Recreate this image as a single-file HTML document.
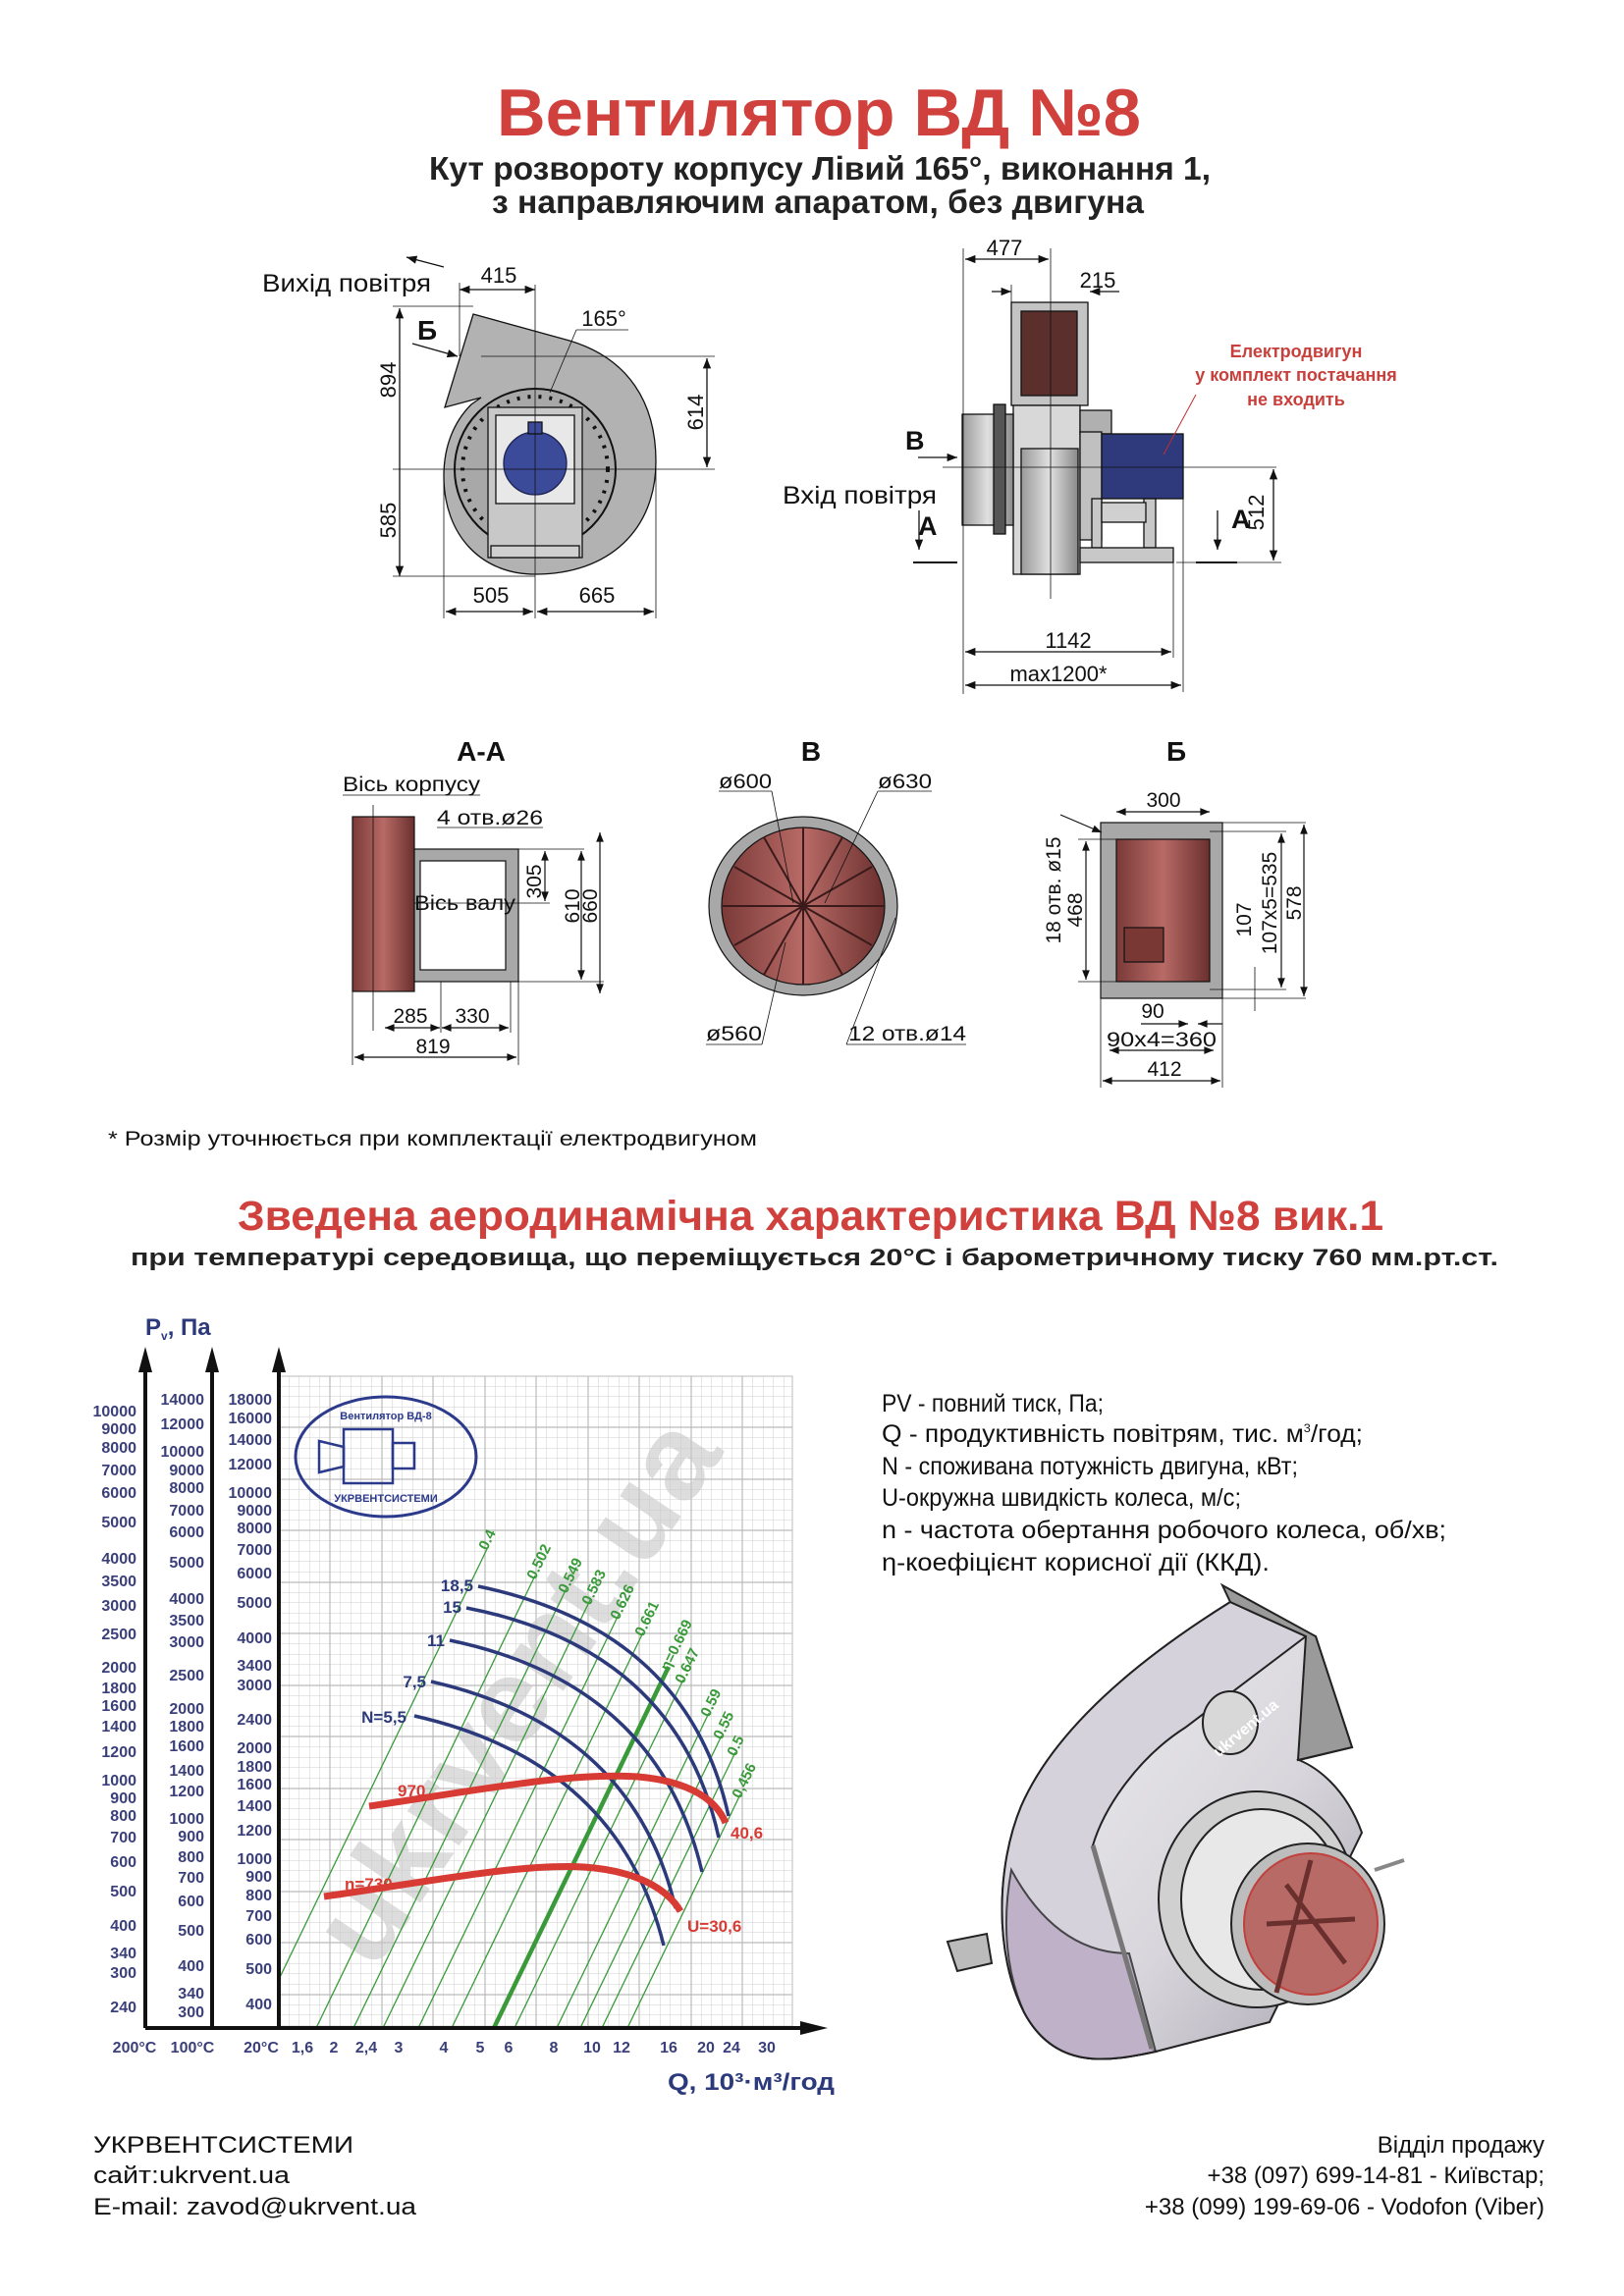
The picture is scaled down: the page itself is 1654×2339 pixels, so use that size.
<!DOCTYPE html>
<html><head><meta charset="utf-8"><style>
html,body{margin:0;padding:0;background:#fff}
svg{display:block}
text{font-family:"Liberation Sans",sans-serif}
</style></head><body>
<svg width="1654" height="2339" viewBox="0 0 1654 2339" xmlns="http://www.w3.org/2000/svg">
<defs>
<pattern id="g" x="284" y="1402" width="10.5" height="10.5" patternUnits="userSpaceOnUse">
<path d="M10.5 0V10.5H0" fill="none" stroke="#cfcfcf" stroke-width="1"/>
</pattern>
<clipPath id="cg"><rect x="284" y="1402" width="523" height="664"/></clipPath>
<marker id="ar" viewBox="0 0 10 10" refX="10" refY="5" markerWidth="12" markerHeight="8" orient="auto-start-reverse"><path d="M0 1L10 5L0 9Z" fill="#111"/></marker>
<linearGradient id="red" x1="0" x2="1"><stop offset="0" stop-color="#7a3a38"/><stop offset=".5" stop-color="#b86a66"/><stop offset="1" stop-color="#6a302e"/></linearGradient>
<linearGradient id="gy" x1="0" x2="1"><stop offset="0" stop-color="#9a9a9a"/><stop offset=".5" stop-color="#e0e0e0"/><stop offset="1" stop-color="#8a8a8a"/></linearGradient>
<linearGradient id="hs" x1="0" x2="1" y1="0" y2="1"><stop offset="0" stop-color="#f0f0f0"/><stop offset=".6" stop-color="#d8d6dc"/><stop offset="1" stop-color="#a8a4b0"/></linearGradient>
</defs>

<!-- Titles -->
<text x="506" y="138" font-size="68" font-weight="bold" fill="#d0403c" textLength="656" lengthAdjust="spacingAndGlyphs">Вентилятор  ВД №8</text>
<text x="437" y="183" font-size="33" font-weight="bold" fill="#222" textLength="796" lengthAdjust="spacingAndGlyphs">Кут розвороту корпусу Лівий 165°, виконання 1,</text>
<text x="501" y="217" font-size="33" font-weight="bold" fill="#222" textLength="664" lengthAdjust="spacingAndGlyphs">з направляючим апаратом, без двигуна</text>

<!-- Left front view -->
<g stroke="#111" stroke-width="1.3" fill="none">
<path d="M482 320 L580 347 C640 365 668 410 668 470 C668 540 620 585 545 585 C490 585 452 545 452 485 C452 455 462 430 480 412 L490 405 L453 415 Z" fill="#b2b2b2"/>
<circle cx="545" cy="478" r="82" fill="#a8a8a8" stroke-width="2"/>
<circle cx="545" cy="478" r="74" stroke-dasharray="3 8" stroke-width="4"/>
<rect x="497" y="415" width="96" height="153" fill="#c8c8c8"/>
<rect x="505" y="423" width="80" height="90" fill="#e8e8e8"/>
<rect x="500" y="556" width="90" height="12" fill="#d0d0d0"/>
<circle cx="545" cy="472" r="32" fill="#3c4a9a" stroke="#1c2250"/>
<rect x="538" y="430" width="14" height="12" fill="#3c4a9a"/>
<line x1="545" y1="290" x2="545" y2="605" stroke-width="0.8"/>
<line x1="400" y1="478" x2="728" y2="478" stroke-width="0.8"/>
<line x1="407" y1="314" x2="407" y2="587" marker-start="url(#ar)" marker-end="url(#ar)"/>
<line x1="400" y1="312" x2="482" y2="312" stroke-width="0.8"/>
<line x1="400" y1="587" x2="545" y2="587" stroke-width="0.8"/>
<line x1="720" y1="365" x2="720" y2="476" marker-start="url(#ar)" marker-end="url(#ar)"/>
<line x1="490" y1="363" x2="728" y2="363" stroke-width="0.8"/>
<line x1="468" y1="295" x2="545" y2="295" marker-start="url(#ar)" marker-end="url(#ar)"/>
<line x1="468" y1="288" x2="468" y2="363" stroke-width="0.8"/>
<line x1="454" y1="623" x2="543" y2="623" marker-start="url(#ar)" marker-end="url(#ar)"/>
<line x1="547" y1="623" x2="666" y2="623" marker-start="url(#ar)" marker-end="url(#ar)"/>
<line x1="452" y1="485" x2="452" y2="630" stroke-width="0.8"/>
<line x1="668" y1="470" x2="668" y2="630" stroke-width="0.8"/>
<line x1="545" y1="605" x2="545" y2="630" stroke-width="0.8"/>
<line x1="420" y1="350" x2="466" y2="363" marker-end="url(#ar)"/>
<line x1="560" y1="400" x2="587" y2="336" stroke-width="0.8"/>
<line x1="587" y1="336" x2="640" y2="336" stroke-width="0.8"/>
<line x1="414" y1="262" x2="452" y2="272" marker-start="url(#ar)"/>
</g>
<g font-size="22" fill="#111">
<text x="267" y="297" font-size="25" textLength="172" lengthAdjust="spacingAndGlyphs">Вихід повітря</text>
<text x="508" y="288" text-anchor="middle">415</text>
<text x="425" y="346" font-size="28" font-weight="bold">Б</text>
<text x="615" y="332" text-anchor="middle">165°</text>
<text transform="translate(403,387) rotate(-90)" text-anchor="middle">894</text>
<text transform="translate(403,530) rotate(-90)" text-anchor="middle">585</text>
<text transform="translate(716,420) rotate(-90)" text-anchor="middle">614</text>
<text x="500" y="614" text-anchor="middle">505</text>
<text x="608" y="614" text-anchor="middle">665</text>
</g>

<!-- Right side view -->
<g stroke="#111" stroke-width="1.3" fill="none">
<rect x="1030" y="308" width="78" height="105" fill="#c4c4c4"/>
<rect x="1040" y="317" width="57" height="86" fill="#5a2f2c"/>
<rect x="1032" y="413" width="68" height="172" fill="#d8d8d8"/>
<rect x="1040" y="457" width="58" height="128" fill="url(#gy)"/>
<rect x="980" y="422" width="52" height="113" fill="url(#gy)"/>
<rect x="1012" y="412" width="12" height="132" fill="#555"/>
<rect x="1100" y="418" width="32" height="24" fill="#b0b0b0"/>
<rect x="1100" y="440" width="22" height="110" fill="#c0c0c0"/>
<rect x="1122" y="442" width="83" height="66" fill="#2e3a7c"/>
<rect x="1112" y="508" width="10" height="50" fill="#c8c8c8"/>
<rect x="1165" y="508" width="12" height="50" fill="#c8c8c8"/>
<rect x="1122" y="512" width="45" height="20" fill="#d0d0d0"/>
<rect x="1100" y="558" width="95" height="15" fill="#c8c8c8"/>
<line x1="1070" y1="300" x2="1070" y2="610" stroke-width="0.8"/>
<line x1="960" y1="476" x2="1300" y2="476" stroke-width="0.8"/>
<line x1="981" y1="253" x2="981" y2="707" stroke-width="0.8"/>
<line x1="983" y1="264" x2="1068" y2="264" marker-start="url(#ar)" marker-end="url(#ar)"/>
<line x1="1070" y1="253" x2="1070" y2="300" stroke-width="0.8"/>
<line x1="1010" y1="297" x2="1030" y2="297" marker-end="url(#ar)"/>
<line x1="1140" y1="297" x2="1110" y2="297" marker-end="url(#ar)"/>
<line x1="1030" y1="290" x2="1030" y2="308" stroke-width="0.8"/>
<line x1="1297" y1="478" x2="1297" y2="571" marker-start="url(#ar)" marker-end="url(#ar)"/>
<line x1="1198" y1="573" x2="1305" y2="573" stroke-width="0.8"/>
<line x1="1195" y1="560" x2="1195" y2="670" stroke-width="0.8"/>
<line x1="1205" y1="508" x2="1205" y2="705" stroke-width="0.8"/>
<line x1="983" y1="664" x2="1193" y2="664" marker-start="url(#ar)" marker-end="url(#ar)"/>
<line x1="983" y1="698" x2="1203" y2="698" marker-start="url(#ar)" marker-end="url(#ar)"/>
<line x1="1218" y1="402" x2="1185" y2="463" stroke="#c03030" stroke-width="1"/>
<line x1="935" y1="466" x2="975" y2="466" marker-end="url(#ar)"/>
<line x1="936" y1="520" x2="936" y2="560" marker-end="url(#ar)"/>
<line x1="930" y1="573" x2="975" y2="573" stroke-width="2"/>
<line x1="1240" y1="520" x2="1240" y2="560" marker-end="url(#ar)"/>
<line x1="1218" y1="573" x2="1260" y2="573" stroke-width="2"/>
</g>
<g font-size="22" fill="#111">
<text x="1023" y="260" text-anchor="middle">477</text>
<text x="1118" y="293" text-anchor="middle">215</text>
<text x="922" y="458" font-size="27" font-weight="bold">В</text>
<text x="797" y="513" font-size="25" textLength="157" lengthAdjust="spacingAndGlyphs">Вхід повітря</text>
<text x="935" y="545" font-size="27" font-weight="bold">А</text>
<text x="1254" y="538" font-size="27" font-weight="bold">А</text>
<text transform="translate(1287,522) rotate(-90)" text-anchor="middle">512</text>
<text x="1088" y="660" text-anchor="middle">1142</text>
<text x="1078" y="694" text-anchor="middle">max1200*</text>
<g font-size="18" font-weight="bold" fill="#c8403c" text-anchor="middle">
<text x="1320" y="364">Електродвигун</text>
<text x="1320" y="388">у комплект постачання</text>
<text x="1320" y="413">не входить</text>
</g>
</g>

<!-- Section views -->
<g font-size="28" font-weight="bold" fill="#111" text-anchor="middle">
<text x="490" y="775">А-А</text><text x="826" y="775">В</text><text x="1198" y="775">Б</text>
</g>
<!-- A-A -->
<g stroke="#111" stroke-width="1.2" fill="none">
<rect x="359" y="832" width="63" height="178" fill="url(#red)"/>
<rect x="422" y="865" width="106" height="135" fill="#a8a8a8"/>
<rect x="428" y="877" width="87" height="111" fill="#fff"/>
<line x1="380" y1="820" x2="380" y2="1050" stroke-width="0.8"/>
<line x1="422" y1="920" x2="560" y2="920" stroke-width="0.8"/>
<line x1="349" y1="810" x2="489" y2="810" stroke-width="0.8"/>
<line x1="445" y1="843" x2="553" y2="843" stroke-width="0.8"/>
<line x1="528" y1="865" x2="595" y2="865" stroke-width="0.8"/>
<line x1="528" y1="1000" x2="615" y2="1000" stroke-width="0.8"/>
<line x1="555" y1="867" x2="555" y2="918" marker-start="url(#ar)" marker-end="url(#ar)"/>
<line x1="592" y1="867" x2="592" y2="998" marker-start="url(#ar)" marker-end="url(#ar)"/>
<line x1="611" y1="848" x2="611" y2="1012" marker-start="url(#ar)" marker-end="url(#ar)"/>
<line x1="392" y1="1047" x2="448" y2="1047" marker-start="url(#ar)" marker-end="url(#ar)"/>
<line x1="450" y1="1047" x2="518" y2="1047" marker-start="url(#ar)" marker-end="url(#ar)"/>
<line x1="361" y1="1077" x2="526" y2="1077" marker-start="url(#ar)" marker-end="url(#ar)"/>
<line x1="359" y1="1010" x2="359" y2="1085" stroke-width="0.8"/>
<line x1="528" y1="1000" x2="528" y2="1085" stroke-width="0.8"/>
<line x1="449" y1="1000" x2="449" y2="1052" stroke-width="0.8"/>
<line x1="520" y1="1000" x2="520" y2="1052" stroke-width="0.8"/>
</g>
<g font-size="21" fill="#111">
<text x="349" y="806" textLength="140" lengthAdjust="spacingAndGlyphs">Вісь корпусу</text>
<text x="445" y="840" textLength="108" lengthAdjust="spacingAndGlyphs">4 отв.ø26</text>
<text x="422" y="927" textLength="103" lengthAdjust="spacingAndGlyphs">Вісь валу</text>
<text transform="translate(551,898) rotate(-90)" text-anchor="middle">305</text>
<text transform="translate(590,923) rotate(-90)" text-anchor="middle">610</text>
<text transform="translate(608,923) rotate(-90)" text-anchor="middle">660</text>
<text x="418" y="1042" text-anchor="middle">285</text>
<text x="481" y="1042" text-anchor="middle">330</text>
<text x="441" y="1073" text-anchor="middle">819</text>
</g>
<!-- B -->
<g stroke="#111" stroke-width="1.2" fill="none">
<ellipse cx="818" cy="923" rx="96" ry="91" fill="#a8a8a8"/>
<ellipse cx="818" cy="923" rx="83" ry="80" fill="url(#red)"/>
<g stroke="#3a1a1a" stroke-width="2">
<line x1="818" y1="923" x2="818" y2="843"/><line x1="818" y1="923" x2="858" y2="853"/><line x1="818" y1="923" x2="888" y2="883"/><line x1="818" y1="923" x2="900" y2="923"/><line x1="818" y1="923" x2="888" y2="963"/><line x1="818" y1="923" x2="858" y2="993"/><line x1="818" y1="923" x2="818" y2="1003"/><line x1="818" y1="923" x2="778" y2="993"/><line x1="818" y1="923" x2="748" y2="963"/><line x1="818" y1="923" x2="736" y2="923"/><line x1="818" y1="923" x2="748" y2="883"/><line x1="818" y1="923" x2="778" y2="853"/>
</g>
<line x1="732" y1="806" x2="786" y2="806" stroke-width="0.8"/>
<line x1="786" y1="806" x2="808" y2="920" stroke-width="0.8"/>
<line x1="894" y1="806" x2="949" y2="806" stroke-width="0.8"/>
<line x1="894" y1="806" x2="840" y2="920" stroke-width="0.8"/>
<line x1="719" y1="1064" x2="776" y2="1064" stroke-width="0.8"/>
<line x1="776" y1="1064" x2="800" y2="960" stroke-width="0.8"/>
<line x1="862" y1="1064" x2="984" y2="1064" stroke-width="0.8"/>
<line x1="862" y1="1064" x2="912" y2="935" stroke-width="0.8"/>
</g>
<g font-size="21" fill="#111">
<text x="732" y="803" textLength="54" lengthAdjust="spacingAndGlyphs">ø600</text>
<text x="894" y="803" textLength="55" lengthAdjust="spacingAndGlyphs">ø630</text>
<text x="719" y="1060" textLength="57" lengthAdjust="spacingAndGlyphs">ø560</text>
<text x="864" y="1060" textLength="120" lengthAdjust="spacingAndGlyphs">12 отв.ø14</text>
</g>
<!-- Б -->
<g stroke="#111" stroke-width="1.2" fill="none">
<rect x="1121" y="838" width="124" height="179" fill="#a8a8a8"/>
<rect x="1137" y="855" width="95" height="145" fill="url(#red)"/>
<rect x="1145" y="945" width="40" height="35" fill="#7a3834"/>
<line x1="1137" y1="827" x2="1232" y2="827" marker-start="url(#ar)" marker-end="url(#ar)"/>
<line x1="1106" y1="857" x2="1106" y2="998" marker-start="url(#ar)" marker-end="url(#ar)"/>
<line x1="1098" y1="855" x2="1137" y2="855" stroke-width="0.8"/>
<line x1="1098" y1="1000" x2="1137" y2="1000" stroke-width="0.8"/>
<line x1="1245" y1="838" x2="1330" y2="838" stroke-width="0.8"/>
<line x1="1245" y1="1017" x2="1330" y2="1017" stroke-width="0.8"/>
<line x1="1232" y1="847" x2="1310" y2="847" stroke-width="0.8"/>
<line x1="1232" y1="1008" x2="1310" y2="1008" stroke-width="0.8"/>
<line x1="1328" y1="840" x2="1328" y2="1015" marker-start="url(#ar)" marker-end="url(#ar)"/>
<line x1="1305" y1="849" x2="1305" y2="1006" marker-start="url(#ar)" marker-end="url(#ar)"/>
<line x1="1278" y1="985" x2="1278" y2="1030" stroke-width="0.8"/>
<line x1="1162" y1="1043" x2="1210" y2="1043" marker-end="url(#ar)"/>
<line x1="1245" y1="1043" x2="1220" y2="1043" marker-end="url(#ar)"/>
<line x1="1130" y1="1070" x2="1236" y2="1070" marker-start="url(#ar)" marker-end="url(#ar)"/>
<line x1="1123" y1="1101" x2="1243" y2="1101" marker-start="url(#ar)" marker-end="url(#ar)"/>
<line x1="1121" y1="1017" x2="1121" y2="1108" stroke-width="0.8"/>
<line x1="1245" y1="1017" x2="1245" y2="1108" stroke-width="0.8"/>
<line x1="1080" y1="830" x2="1122" y2="848" marker-end="url(#ar)"/>
</g>
<g font-size="21" fill="#111">
<text x="1185" y="822" text-anchor="middle">300</text>
<text transform="translate(1080,907) rotate(-90)" text-anchor="middle">18 отв. ø15</text>
<text transform="translate(1102,927) rotate(-90)" text-anchor="middle">468</text>
<text transform="translate(1274,937) rotate(-90)" text-anchor="middle">107</text>
<text transform="translate(1300,920) rotate(-90)" text-anchor="middle">107x5=535</text>
<text transform="translate(1325,920) rotate(-90)" text-anchor="middle">578</text>
<text x="1174" y="1037" text-anchor="middle">90</text>
<text x="1183" y="1066" text-anchor="middle" textLength="112" lengthAdjust="spacingAndGlyphs">90x4=360</text>
<text x="1186" y="1096" text-anchor="middle">412</text>
</g>
<text x="110" y="1167" font-size="21" fill="#111" textLength="661" lengthAdjust="spacingAndGlyphs">* Розмір уточнюється при комплектації електродвигуном</text>

<!-- Chart titles -->
<text x="242" y="1253" font-size="43" font-weight="bold" fill="#d0403c" textLength="1167" lengthAdjust="spacingAndGlyphs">Зведена аеродинамічна характеристика ВД №8 вик.1</text>
<text x="133" y="1289" font-size="24" font-weight="bold" fill="#222" textLength="1393" lengthAdjust="spacingAndGlyphs">при температурі середовища, що переміщується 20°С і барометричному тиску 760 мм.рт.ст.</text>

<!-- Chart -->
<rect x="284" y="1402" width="523" height="664" fill="url(#g)"/>
<rect x="284" y="1402" width="523" height="664" fill="none" stroke="#bbb"/>
<g stroke="#bbb" stroke-width="1.2">
<path d="M284 1454H807M284 1507H807M284 1559H807M284 1612H807M284 1664H807M284 1717H807M284 1769H807M284 1822H807M284 1874H807M284 1927H807M284 1979H807M284 2032H807"/>
<path d="M336 1402V2066M389 1402V2066M441 1402V2066M494 1402V2066M546 1402V2066M599 1402V2066M651 1402V2066M704 1402V2066M756 1402V2066"/>
</g>
<text x="380" y="2010" font-size="120" font-weight="bold" fill="#c8c8c8" opacity=".6" transform="rotate(-56 380 2010)" textLength="640" lengthAdjust="spacingAndGlyphs">ukrvent.ua</text>
<ellipse cx="393" cy="1484" rx="92" ry="61" fill="none" stroke="#2c3a8c" stroke-width="3"/>
<g fill="none" stroke="#2c3a8c" stroke-width="2.5">
<path d="M325 1468L350 1474L350 1494L325 1500Z"/><rect x="350" y="1456" width="50" height="55"/><rect x="400" y="1470" width="22" height="26"/>
</g>
<text x="393" y="1446" font-size="11" font-weight="bold" fill="#2c3a8c" text-anchor="middle">Вентилятор ВД-8</text>
<text x="393" y="1530" font-size="11" font-weight="bold" fill="#2c3a8c" text-anchor="middle">УКРВЕНТСИСТЕМИ</text>
<g clip-path="url(#cg)" stroke="#3a9a3a" stroke-width="1.3">
<line x1="260" y1="2066" x2="496" y2="1578"/>
<line x1="322" y1="2066" x2="545" y2="1605"/>
<line x1="360" y1="2066" x2="577" y2="1618"/>
<line x1="390" y1="2066" x2="601" y2="1630"/>
<line x1="426" y1="2066" x2="630" y2="1645"/>
<line x1="460" y1="2066" x2="655" y2="1663"/>
<line x1="503" y1="2066" x2="681" y2="1698" stroke-width="4.5"/>
<line x1="524" y1="2066" x2="696" y2="1711"/>
<line x1="567" y1="2066" x2="722" y2="1745"/>
<line x1="591" y1="2066" x2="735" y2="1768"/>
<line x1="613" y1="2066" x2="749" y2="1785"/>
<line x1="639" y1="2066" x2="754" y2="1828"/>
</g>
<g font-size="15" font-weight="bold" fill="#3a9a3a">
<text transform="translate(496,1580) rotate(-64)">0.4</text>
<text transform="translate(545,1610) rotate(-64)">0.502</text>
<text transform="translate(577,1624) rotate(-64)">0.549</text>
<text transform="translate(601,1636) rotate(-64)">0.583</text>
<text transform="translate(630,1651) rotate(-64)">0.626</text>
<text transform="translate(655,1668) rotate(-64)">0.661</text>
<text transform="translate(681,1703) rotate(-64)">η=0.669</text>
<text transform="translate(696,1716) rotate(-64)">0.647</text>
<text transform="translate(722,1750) rotate(-64)">0.59</text>
<text transform="translate(735,1773) rotate(-64)">0.55</text>
<text transform="translate(749,1790) rotate(-64)">0.5</text>
<text transform="translate(754,1833) rotate(-64)">0,456</text>
</g>
<g fill="none" stroke="#2c3a7c" stroke-width="3.5">
<path d="M487 1616 Q700 1660 742 1850"/>
<path d="M475 1638 Q690 1680 732 1872"/>
<path d="M458 1671 Q670 1715 715 1907"/>
<path d="M439 1713 Q645 1760 688 1944"/>
<path d="M422 1748 Q630 1795 676 1982"/>
</g>
<g fill="none" stroke="#d83a34" stroke-width="7">
<path d="M376 1840 C480 1825 580 1805 650 1810 C705 1815 730 1835 739 1857"/>
<path d="M330 1932 C430 1918 530 1898 595 1902 C650 1906 680 1925 693 1947"/>
</g>
<g font-size="17" font-weight="bold" fill="#2c3a7c" text-anchor="end">
<text x="482" y="1621">18,5</text><text x="470" y="1643">15</text><text x="453" y="1677">11</text><text x="434" y="1719">7,5</text><text x="414" y="1755">N=5,5</text>
</g>
<g font-size="17" font-weight="bold" fill="#d83a34">
<text x="405" y="1830">970</text><text x="351" y="1925">n=730</text><text x="744" y="1873">40,6</text><text x="700" y="1968">U=30,6</text>
</g>
<!-- axes -->
<g stroke="#111" stroke-width="4">
<line x1="148" y1="2066" x2="148" y2="1395"/><line x1="216" y1="2066" x2="216" y2="1395"/><line x1="284" y1="2066" x2="284" y2="1395"/>
<line x1="148" y1="2066" x2="820" y2="2066"/>
</g>
<g fill="#111">
<path d="M141 1398L148 1372L155 1398Z"/><path d="M209 1398L216 1372L223 1398Z"/><path d="M277 1398L284 1372L291 1398Z"/><path d="M815 2059L843 2066L815 2073Z"/>
</g>
<text x="148" y="1360" font-size="24" font-weight="bold" fill="#2c3a7c">P<tspan font-size="12" dy="5">v</tspan><tspan dy="-5">, Па</tspan></text>
<text x="680" y="2129" font-size="24" font-weight="bold" fill="#2c3a7c" textLength="170" lengthAdjust="spacingAndGlyphs">Q, 10³·м³/год</text>
<g font-size="16" font-weight="bold" fill="#3a3f7a" text-anchor="end">
<text x="139" y="1443">10000</text><text x="139" y="1461">9000</text><text x="139" y="1480">8000</text><text x="139" y="1503">7000</text><text x="139" y="1526">6000</text><text x="139" y="1556">5000</text><text x="139" y="1593">4000</text><text x="139" y="1616">3500</text><text x="139" y="1641">3000</text><text x="139" y="1670">2500</text><text x="139" y="1704">2000</text><text x="139" y="1725">1800</text><text x="139" y="1743">1600</text><text x="139" y="1764">1400</text><text x="139" y="1790">1200</text><text x="139" y="1819">1000</text><text x="139" y="1837">900</text><text x="139" y="1855">800</text><text x="139" y="1877">700</text><text x="139" y="1902">600</text><text x="139" y="1932">500</text><text x="139" y="1967">400</text><text x="139" y="1995">340</text><text x="139" y="2015">300</text><text x="139" y="2050">240</text>
<text x="208" y="1431">14000</text><text x="208" y="1456">12000</text><text x="208" y="1484">10000</text><text x="208" y="1503">9000</text><text x="208" y="1521">8000</text><text x="208" y="1544">7000</text><text x="208" y="1566">6000</text><text x="208" y="1597">5000</text><text x="208" y="1634">4000</text><text x="208" y="1656">3500</text><text x="208" y="1678">3000</text><text x="208" y="1712">2500</text><text x="208" y="1746">2000</text><text x="208" y="1764">1800</text><text x="208" y="1784">1600</text><text x="208" y="1809">1400</text><text x="208" y="1830">1200</text><text x="208" y="1858">1000</text><text x="208" y="1876">900</text><text x="208" y="1897">800</text><text x="208" y="1918">700</text><text x="208" y="1942">600</text><text x="208" y="1972">500</text><text x="208" y="2008">400</text><text x="208" y="2036">340</text><text x="208" y="2055">300</text>
<text x="277" y="1431">18000</text><text x="277" y="1450">16000</text><text x="277" y="1472">14000</text><text x="277" y="1497">12000</text><text x="277" y="1526">10000</text><text x="277" y="1544">9000</text><text x="277" y="1562">8000</text><text x="277" y="1584">7000</text><text x="277" y="1608">6000</text><text x="277" y="1638">5000</text><text x="277" y="1674">4000</text><text x="277" y="1702">3400</text><text x="277" y="1722">3000</text><text x="277" y="1757">2400</text><text x="277" y="1786">2000</text><text x="277" y="1805">1800</text><text x="277" y="1823">1600</text><text x="277" y="1845">1400</text><text x="277" y="1870">1200</text><text x="277" y="1899">1000</text><text x="277" y="1917">900</text><text x="277" y="1936">800</text><text x="277" y="1957">700</text><text x="277" y="1981">600</text><text x="277" y="2011">500</text><text x="277" y="2047">400</text>
</g>
<g font-size="16" font-weight="bold" fill="#3a3f7a" text-anchor="middle">
<text x="137" y="2091">200°C</text><text x="196" y="2091">100°C</text><text x="266" y="2091">20°C</text><text x="308" y="2091">1,6</text><text x="340" y="2091">2</text><text x="373" y="2091">2,4</text><text x="406" y="2091">3</text><text x="452" y="2091">4</text><text x="489" y="2091">5</text><text x="518" y="2091">6</text><text x="564" y="2091">8</text><text x="603" y="2091">10</text><text x="633" y="2091">12</text><text x="681" y="2091">16</text><text x="719" y="2091">20</text><text x="745" y="2091">24</text><text x="781" y="2091">30</text>
</g>

<!-- Legend -->
<g font-size="25" fill="#111">
<text x="898" y="1438" textLength="226" lengthAdjust="spacingAndGlyphs">PV - повний тиск, Па;</text>
<text x="898" y="1469" textLength="490" lengthAdjust="spacingAndGlyphs">Q - продуктивність повітрям, тис. м<tspan font-size="12" dy="-10">3</tspan><tspan dy="10">/год;</tspan></text>
<text x="898" y="1502" textLength="424" lengthAdjust="spacingAndGlyphs">N - споживана потужність двигуна, кВт;</text>
<text x="898" y="1534" textLength="366" lengthAdjust="spacingAndGlyphs">U-окружна швидкість колеса, м/с;</text>
<text x="898" y="1567" textLength="575" lengthAdjust="spacingAndGlyphs">n - частота обертання робочого колеса, об/хв;</text>
<text x="898" y="1600" textLength="395" lengthAdjust="spacingAndGlyphs">η-коефіцієнт корисної дії (ККД).</text>
</g>

<!-- 3D fan -->
<g stroke="#222" stroke-width="2">
<path d="M965 1978 L1005 1970 L1010 2000 L975 2008 Z" fill="#bbb"/>
<path d="M1253 1632 C1160 1690 1075 1760 1040 1840 C1015 1900 1012 1990 1043 2050 C1075 2110 1130 2100 1177 2090 L1293 2060 L1387 1867 C1370 1820 1340 1800 1323 1793 L1377 1780 L1340 1667 Z" fill="url(#hs)"/>
<path d="M1253 1632 L1330 1667 L1207 1760 C1160 1790 1125 1840 1113 1880 L1173 2087 L1177 2090 C1130 2100 1075 2110 1043 2050 C1012 1990 1015 1900 1040 1840 C1075 1760 1160 1690 1253 1632 Z" fill="#d6d2dc"/>
<path d="M1030 1905 C1020 1960 1025 2010 1043 2050 C1075 2110 1130 2100 1177 2090 L1150 1990 C1100 1990 1060 1960 1030 1905 Z" fill="#b9a9c4" opacity=".8"/>
<path d="M1245 1615 L1340 1667 L1377 1780 L1322 1793 L1330 1667 L1253 1632 Z" fill="#9a9a9a"/>
<line x1="1113" y1="1880" x2="1173" y2="2087" stroke-width="5" stroke="#777"/>
<ellipse cx="1253" cy="1755" rx="28" ry="32" fill="#d8d8d8"/>
<ellipse cx="1280" cy="1935" rx="100" ry="110" fill="#d0d0d0"/>
<ellipse cx="1285" cy="1935" rx="82" ry="92" fill="#e8e8e8"/>
<ellipse cx="1332" cy="1960" rx="78" ry="82" fill="#bdbdbd"/>
<ellipse cx="1335" cy="1960" rx="68" ry="72" fill="#b86a66" stroke="#c0403c"/>
<path d="M1290 1960 L1380 1955 M1335 1895 L1300 2030 M1310 1920 L1370 2000" stroke="#6a302e" stroke-width="5"/>
<line x1="1400" y1="1905" x2="1430" y2="1895" stroke-width="4" stroke="#888"/>
</g>
<text x="1230" y="1780" font-size="16" font-weight="bold" fill="#fff" transform="rotate(-40 1250 1770)">ukrvent.ua</text>

<!-- Footer -->
<g font-size="24" fill="#111">
<text x="95" y="2193" textLength="265" lengthAdjust="spacingAndGlyphs">УКРВЕНТСИСТЕМИ</text>
<text x="95" y="2224" textLength="200" lengthAdjust="spacingAndGlyphs">сайт:ukrvent.ua</text>
<text x="95" y="2256" textLength="329" lengthAdjust="spacingAndGlyphs">E-mail: zavod@ukrvent.ua</text>
<text x="1573" y="2193" text-anchor="end">Відділ продажу</text>
<text x="1573" y="2224" text-anchor="end">+38 (097) 699-14-81 - Київстар;</text>
<text x="1573" y="2256" text-anchor="end">+38 (099) 199-69-06 - Vodofon (Viber)</text>
</g>
</svg>
</body></html>
